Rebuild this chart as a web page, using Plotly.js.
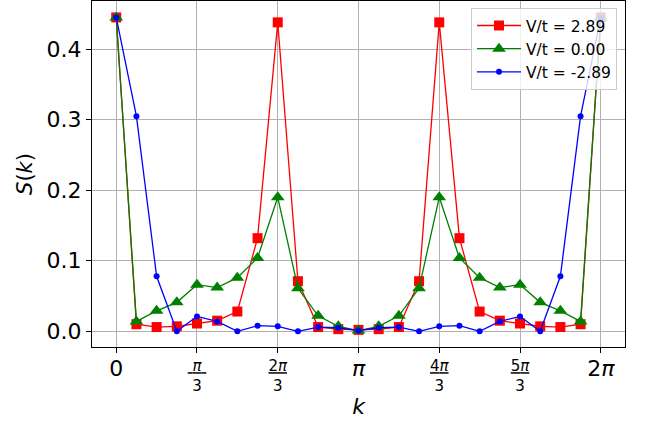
<!DOCTYPE html>
<html>
<head>
<meta charset="utf-8">
<script src="https://cdn.plot.ly/plotly-3.0.1.min.js"></script>
<style>html,body{margin:0;padding:0;background:#fff}</style>
</head>
<body>
<div id="chart" style="width:654px;height:422px"></div>
<script>
// k index n = 0..24, k = 2*pi*n/24
var kIndex = [0,1,2,3,4,5,6,7,8,9,10,11,12,13,14,15,16,17,18,19,20,21,22,23,24];
var seriesNames = ["V/t = 2.89", "V/t = 0.00", "V/t = -2.89"];
var sRed = [0.445,0.010,0.006,0.007,0.011,0.015,0.028,0.132,0.438,0.071,0.006,0.003,0.002,
            0.003,0.006,0.071,0.438,0.132,0.028,0.015,0.011,0.007,0.006,0.010,0.445];
var sGreen = [0.445,0.014,0.029,0.041,0.066,0.062,0.076,0.104,0.190,0.061,0.022,0.007,0.001,
              0.007,0.022,0.061,0.190,0.104,0.076,0.062,0.066,0.041,0.029,0.014,0.445];
var sBlue = [0.445,0.305,0.078,0.000,0.021,0.014,0.000,0.008,0.007,0.000,0.006,0.005,0.001,
             0.005,0.006,0.000,0.007,0.008,0.000,0.014,0.021,0.000,0.078,0.305,0.445];
var tickVals = [0, Math.PI/3, 2*Math.PI/3, Math.PI, 4*Math.PI/3, 5*Math.PI/3, 2*Math.PI];
var fracTickText = ["", "<u> <i>π</i> </u><br>3", "<u>2<i>π</i></u><br>3", "",
                    "<u>4<i>π</i></u><br>3", "<u>5<i>π</i></u><br>3", ""];
var bigTickVals = [0, Math.PI, 2*Math.PI];
var bigTickText = ["0", "<i>π</i>", "2<i>π</i>"];
var yTickVals = [0, 0.1, 0.2, 0.3, 0.4];
var yTickText = ['0.0', '0.1', '0.2', '0.3', '0.4'];

var kVals = kIndex.map(function(n){ return 2*Math.PI*n/24; });

function tr(y, name, color, symbol, size) {
  return {x: kVals, y: y, name: name, type: 'scatter', mode: 'lines+markers',
          legendgroup: name,
          line: {color: color, width: 1.3},
          marker: {color: color, symbol: symbol, size: size, line: {width: 0}}};
}
var data = [
  tr(sRed, seriesNames[0], '#ff0000', 'square', 10),
  tr(sGreen, seriesNames[1], '#008000', 'triangle-up', 12),
  tr(sBlue, seriesNames[2], '#0000ff', 'circle', 6),
  // carrier for the second (label-only) x axis; draws nothing
  {x: bigTickVals, y: [null, null, null], xaxis: 'x2', yaxis: 'y', type: 'scatter',
   mode: 'markers', showlegend: false, hoverinfo: 'skip'}
];
var xr = [-0.05*2*Math.PI, 1.05*2*Math.PI];
var layout = {
  width: 654, height: 422,
  margin: {l: 92, r: 29, t: 1, b: 75},
  paper_bgcolor: '#fff', plot_bgcolor: '#fff',
  font: {family: 'DejaVu Sans', color: '#000'},
  showlegend: true,
  legend: {x: 0.985, y: 0.98, xanchor: 'right', yanchor: 'top',
           bgcolor: 'rgba(255,255,255,0.8)', bordercolor: '#cccccc', borderwidth: 1,
           itemwidth: 44, traceorder: 'grouped', tracegroupgap: 0,
           font: {family: 'DejaVu Sans', size: 15.5, color: '#000'}},
  xaxis: {range: xr, tickmode: 'array', tickvals: tickVals, ticktext: fracTickText,
          showgrid: true, gridcolor: '#b0b0b0', gridwidth: 1,
          zeroline: false, showline: true, linecolor: '#000', linewidth: 1.2, mirror: true,
          ticks: 'outside', ticklen: 5, tickwidth: 1, tickcolor: '#000',
          tickfont: {family: 'DejaVu Sans', size: 15, color: '#000'},
          title: {text: '<i>k</i>', font: {family: 'DejaVu Sans', size: 22, color: '#000'}, standoff: 4}},
  xaxis2: {range: xr, overlaying: 'x', anchor: 'y', side: 'bottom',
           tickmode: 'array', tickvals: bigTickVals, ticktext: bigTickText,
           showgrid: false, zeroline: false, showline: false,
           ticks: '', ticklabelstandoff: 6,
           tickfont: {family: 'DejaVu Sans', size: 22, color: '#000'}},
  yaxis: {range: [-0.0223, 0.4683], tickmode: 'array',
          tickvals: yTickVals, ticktext: yTickText,
          showgrid: true, gridcolor: '#b0b0b0', gridwidth: 1,
          zeroline: false, showline: true, linecolor: '#000', linewidth: 1.2, mirror: true,
          ticks: 'outside', ticklen: 5, tickwidth: 1, tickcolor: '#000',
          tickfont: {family: 'DejaVu Sans', size: 22, color: '#000'},
          title: {text: '<i>S</i>(<i>k</i>)', font: {family: 'DejaVu Sans', size: 21, color: '#000'}, standoff: 8}}
};
Plotly.newPlot('chart', data, layout, {displayModeBar: false, staticPlot: true});
</script>
</body>
</html>
